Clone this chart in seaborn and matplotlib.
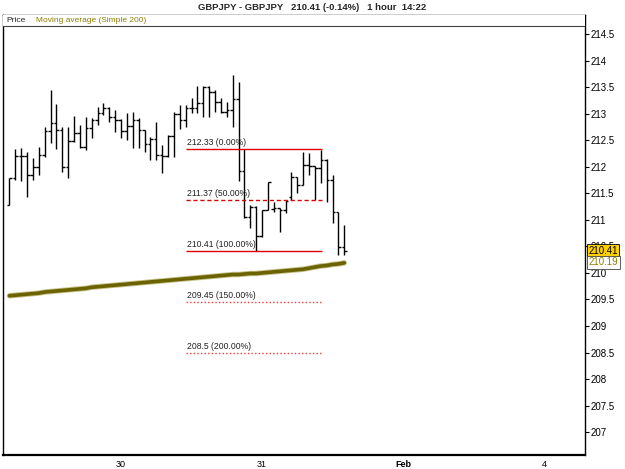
import matplotlib
matplotlib.use('Agg')
import matplotlib.pyplot as plt
import matplotlib.patheffects as pe
import matplotlib.transforms as mtrans
from matplotlib.ticker import FormatStrFormatter
import seaborn as sns
import pandas as pd

# hourly OHLC bars (GBPJPY)
opens = [211.28, 211.78, 212.20, 212.20, 211.84, 212.00, 212.22, 212.68, 212.82, 212.69,
         211.99, 212.49, 212.63, 212.37, 212.74, 212.89, 213.02, 213.10, 212.93, 212.89,
         212.68, 212.77, 212.88, 212.69, 212.43, 212.52, 212.22, 212.20, 212.58, 212.99,
         212.89, 213.10, 213.10, 213.21, 213.51, 213.41, 213.23, 213.04, 213.07, 213.27,
         211.93, 211.05, 211.25, 210.70, 211.19, 211.20, 211.22, 211.19, 211.44, 211.81,
         211.66, 212.03, 212.01, 211.97, 212.13, 211.75, 211.15, 210.49]
highs = [211.78, 212.33, 212.35, 212.28, 212.16, 212.37, 212.75, 213.45, 213.19, 212.75,
         212.75, 212.96, 212.79, 212.94, 212.91, 213.13, 213.21, 213.13, 213.07, 212.90,
         213.01, 213.04, 212.91, 212.69, 212.57, 212.85, 212.41, 212.60, 213.04, 213.16,
         213.16, 213.29, 213.52, 213.52, 213.53, 213.45, 213.29, 213.23, 213.73, 213.60,
         212.33, 211.28, 211.26, 211.19, 211.72, 211.34, 211.22, 211.36, 211.91, 211.81,
         212.28, 212.26, 212.01, 212.32, 212.14, 211.84, 211.15, 210.90]
lows = [211.28, 211.75, 211.74, 211.44, 211.75, 211.84, 212.19, 212.44, 212.33, 211.91,
        211.78, 212.47, 212.35, 212.32, 212.55, 212.79, 212.97, 212.85, 212.66, 212.54,
        212.50, 212.35, 212.35, 212.28, 212.13, 212.13, 211.88, 212.19, 212.19, 212.72,
        212.75, 213.01, 213.01, 212.94, 212.94, 213.04, 213.02, 212.94, 212.75, 211.74,
        211.03, 210.84, 210.41, 210.67, 211.19, 211.15, 210.78, 211.12, 211.37, 211.50,
        211.66, 211.84, 211.37, 211.69, 211.34, 210.94, 210.34, 210.34]
closes = [211.78, 212.20, 212.20, 211.84, 212.00, 212.22, 212.68, 212.82, 212.69, 211.99,
          212.49, 212.63, 212.37, 212.74, 212.89, 213.02, 213.10, 212.93, 212.89, 212.68,
          212.77, 212.88, 212.69, 212.43, 212.52, 212.22, 212.20, 212.58, 212.99, 212.89,
          213.10, 213.10, 213.21, 213.51, 213.41, 213.23, 213.04, 213.07, 213.27, 211.93,
          211.05, 211.25, 210.70, 211.19, 211.71, 211.22, 211.19, 211.36, 211.81, 211.66,
          212.03, 212.01, 211.97, 212.13, 211.75, 211.15, 210.49, 210.41]
# simple moving average 200
sma200 = [209.57, 209.58, 209.59, 209.60, 209.61, 209.62, 209.64, 209.65, 209.66, 209.67,
          209.68, 209.69, 209.70, 209.71, 209.73, 209.74, 209.75, 209.76, 209.77, 209.78,
          209.79, 209.80, 209.81, 209.82, 209.83, 209.84, 209.85, 209.86, 209.87, 209.88,
          209.89, 209.90, 209.91, 209.92, 209.93, 209.94, 209.95, 209.96, 209.97, 209.97,
          209.98, 209.99, 209.99, 210.00, 210.01, 210.02, 210.03, 210.04, 210.05, 210.06,
          210.07, 210.09, 210.11, 210.13, 210.14, 210.16, 210.17, 210.19]

# fibonacci levels
fib_levels = [212.33, 211.37, 210.41, 209.45, 208.5]
fib_labels = ['212.33 (0.00%)', '211.37 (50.00%)', '210.41 (100.00%)',
              '209.45 (150.00%)', '208.5 (200.00%)']
fib_start, fib_end = 30.1, 53.2

day_ticks = [19, 43, 67, 91]
day_labels = ['30', '31', 'Feb', '4']
price_ticks = [207, 207.5, 208, 208.5, 209, 209.5, 210, 210.5, 211, 211.5,
               212, 212.5, 213, 213.5, 214, 214.5]

df = pd.DataFrame({'bar': range(len(opens)), 'open': opens, 'high': highs,
                   'low': lows, 'close': closes, 'sma': sma200})

sns.set_style('white')
plt.rcParams['font.family'] = ['Liberation Sans', 'DejaVu Sans']

fig = plt.figure(figsize=(6.25, 4.69), dpi=100)
ax = fig.add_axes([0.0048, 0.0299, 0.9312, 0.9381])

# bars
ax.vlines(df['bar'], df['low'], df['high'], color='black', lw=1.0)
ax.hlines(df['open'], df['bar'] - 0.45, df['bar'], color='black', lw=1.0)
ax.hlines(df['close'], df['bar'], df['bar'] + 0.45, color='black', lw=1.0)

# moving average
sns.lineplot(data=df, x='bar', y='sma', ax=ax, color='#6b6200', lw=2.6,
             legend=False,
             path_effects=[pe.Stroke(linewidth=3.9, foreground='#c8c28a'), pe.Normal()])

# fibonacci
styles = ['-', (0, (3, 2)), '-', (0, (1, 1.6)), (0, (1, 1.6))]
colors = ['#dd0000', '#dd0000', '#dd0000', '#ff3535', '#ff3535']
for lvl, lab, ls, c in zip(fib_levels, fib_labels, styles, colors):
    ax.hlines(lvl, fib_start, fib_end, color=c, linestyle=ls, lw=1.0)
    ax.text(fib_start + 0.1, lvl + 0.035, lab, fontsize=6.2, color='#222222',
            ha='left', va='bottom')

ymin, ymax = 206.57, 214.86
ax.set_xlim(-1.1, 97.98)
ax.set_ylim(ymin, ymax)
ax.set_xlabel('')
ax.set_ylabel('')

ax.set_xticks(day_ticks)
ax.set_xticklabels(day_labels)
ax.get_xticklabels()[2].set_fontweight('bold')
ax.yaxis.tick_right()
ax.set_yticks(price_ticks)
ax.yaxis.set_major_formatter(FormatStrFormatter('%g'))
ax.tick_params(axis='y', direction='out', length=3, width=0.8,
               labelsize=7, pad=1, colors='black')
ax.tick_params(axis='x', direction='out', length=2.5, width=0.8,
               labelsize=6.5, pad=1, colors='black')

for side in ['left', 'right', 'top']:
    ax.spines[side].set_color('black')
    ax.spines[side].set_linewidth(1.0)
ax.spines['bottom'].set_color('black')
ax.spines['bottom'].set_linewidth(1.6)

# legend strip at top of the panel
strip = 11 / 440
ax.add_patch(plt.Rectangle((0, 1 - strip), 1, strip, transform=ax.transAxes,
                           facecolor='white', edgecolor='none', zorder=5))
ax.axhline(ymax - (ymax - ymin) * strip, color='#444444', lw=0.8, zorder=6)
ax.text(0.006, 1 - strip / 2, 'Price', transform=ax.transAxes, fontsize=6,
        va='center', ha='left', zorder=7)
ax.text(0.057, 1 - strip / 2, 'Moving average (Simple 200)', transform=ax.transAxes,
        fontsize=6, va='center', ha='left', color='#8b8000', zorder=7)

# last value badges on the price axis
trans = mtrans.blended_transform_factory(ax.transAxes, ax.transData)
ax.text(1.006, 210.42, '210.41', transform=trans, fontsize=7, va='center', ha='left',
        color='black', clip_on=False, zorder=10,
        bbox=dict(boxstyle='square,pad=0.15', fc='#ffd000', ec='black', lw=0.6))
ax.text(1.006, 210.20, '210.19', transform=trans, fontsize=7, va='center', ha='left',
        color='#8b8000', clip_on=False, zorder=10,
        bbox=dict(boxstyle='square,pad=0.15', fc='white', ec='#444444', lw=0.6))

fig.text(0.4995, 0.985, 'GBPJPY - GBPJPY   210.41 (-0.14%)   1 hour  14:22',
         ha='center', va='center', fontsize=6.8, fontweight='bold')

fig.savefig('out.png', dpi=100, facecolor='white')
